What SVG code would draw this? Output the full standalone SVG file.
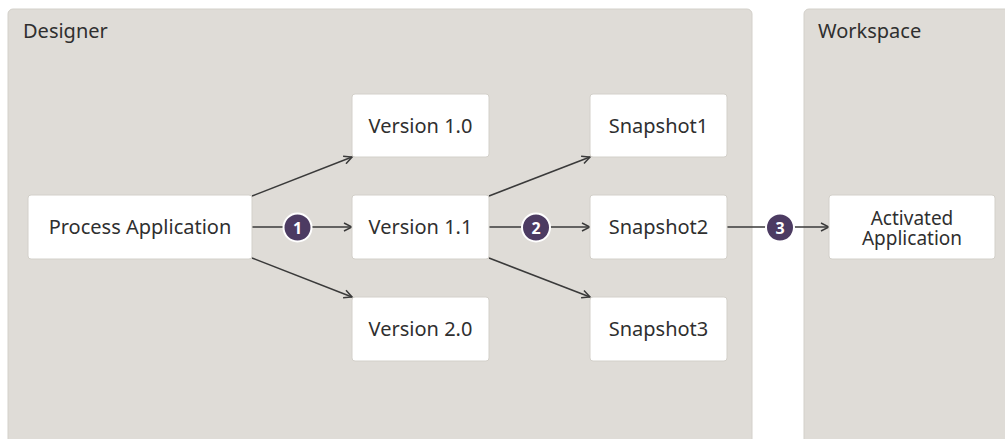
<svg xmlns="http://www.w3.org/2000/svg" width="1005" height="439" viewBox="0 0 1005 439">
<defs>
<style>
.panel{fill:#dfdcd7;stroke:#d3d0ca;stroke-width:1}
.title{font-family:"Noto Sans","Open Sans",sans-serif;font-size:20px;fill:#2f2f2f}
.box{fill:#ffffff;stroke:#d3d0ca;stroke-width:1}
.lbl{font-family:"Noto Sans","Open Sans",sans-serif;font-size:20px;fill:#2f2f2f;text-anchor:middle}
.conn{stroke:#3a3a3a;stroke-width:1.5;fill:none}
.badge{fill:#4c3b62;stroke:#ffffff;stroke-width:2}
.num{font-family:"Noto Sans","Open Sans",sans-serif;font-size:16px;font-weight:bold;fill:#ffffff;text-anchor:middle}
</style>
<marker id="arr" viewBox="0 0 10 10" refX="9" refY="5" markerWidth="10" markerHeight="10" markerUnits="userSpaceOnUse" orient="auto">
<path d="M1,1 L9,5 L1,9" fill="none" stroke="#3a3a3a" stroke-width="1.5"/>
</marker>
</defs>
<rect width="1005" height="439" fill="#ffffff"/>
<g id="designer">
<rect class="panel" x="8" y="9" width="744" height="440" rx="5"/>
<text class="title" x="23" y="38">Designer</text>
</g>
<g id="workspace">
<rect class="panel" x="804" y="9" width="210" height="440" rx="5"/>
<text class="title" x="818" y="38">Workspace</text>
</g>
<g id="connectors">
<line class="conn" x1="252" y1="196" x2="352" y2="157" marker-end="url(#arr)"/>
<line class="conn" x1="252" y1="227" x2="352" y2="227" marker-end="url(#arr)"/>
<line class="conn" x1="252" y1="258" x2="352" y2="297" marker-end="url(#arr)"/>
<line class="conn" x1="489" y1="196" x2="590" y2="157" marker-end="url(#arr)"/>
<line class="conn" x1="489" y1="227" x2="590" y2="227" marker-end="url(#arr)"/>
<line class="conn" x1="489" y1="258" x2="590" y2="297" marker-end="url(#arr)"/>
<line class="conn" x1="727" y1="227" x2="829" y2="227" marker-end="url(#arr)"/>
</g>
<g id="badge1"><circle class="badge" cx="297.5" cy="227.5" r="14"/><text class="num" x="297.5" y="233.5">1</text></g>
<g id="badge2"><circle class="badge" cx="536" cy="227.5" r="14"/><text class="num" x="536" y="233.5">2</text></g>
<g id="badge3"><circle class="badge" cx="780" cy="227.5" r="14"/><text class="num" x="780" y="233.5">3</text></g>
<g id="process-application"><rect class="box" x="28" y="195" width="224" height="64" rx="3"/><text class="lbl" x="140" y="234">Process Application</text></g>
<g id="version-1-0"><rect class="box" x="352" y="94" width="137" height="63" rx="3"/><text class="lbl" x="420.5" y="133">Version 1.0</text></g>
<g id="version-1-1"><rect class="box" x="352" y="195" width="137" height="64" rx="3"/><text class="lbl" x="420.5" y="234">Version 1.1</text></g>
<g id="version-2-0"><rect class="box" x="352" y="297" width="137" height="64" rx="3"/><text class="lbl" x="420.5" y="336">Version 2.0</text></g>
<g id="snapshot1"><rect class="box" x="590" y="94" width="137" height="63" rx="3"/><text class="lbl" x="658.5" y="133">Snapshot1</text></g>
<g id="snapshot2"><rect class="box" x="590" y="195" width="137" height="64" rx="3"/><text class="lbl" x="658.5" y="234">Snapshot2</text></g>
<g id="snapshot3"><rect class="box" x="590" y="297" width="137" height="64" rx="3"/><text class="lbl" x="658.5" y="336">Snapshot3</text></g>
<g id="activated-application"><rect class="box" x="829" y="195" width="166" height="64" rx="3"/><text class="lbl" x="912" y="225" style="font-size:19px"><tspan x="912">Activated</tspan><tspan x="912" dy="20">Application</tspan></text></g>
</svg>
